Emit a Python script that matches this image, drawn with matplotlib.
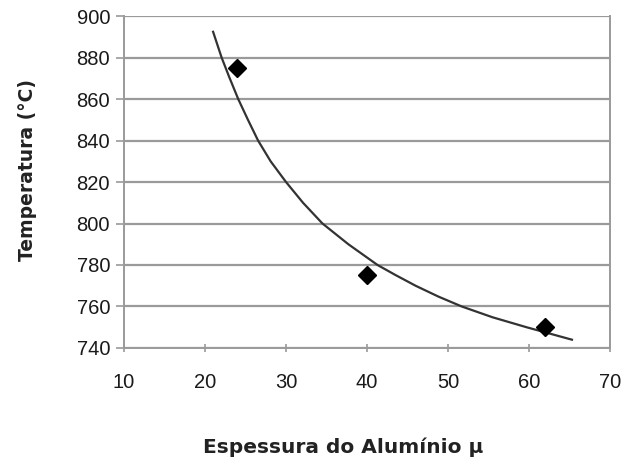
import matplotlib
matplotlib.use('Agg')
import matplotlib.pyplot as plt
from matplotlib.ticker import MultipleLocator

# measured points: aluminium thickness vs. temperature
espessura = [24, 40, 62]
temperatura = [875, 775, 750]

# trend curve, sampled along its length
curva_x = [21.0, 22.05, 23.0, 24.1, 25.3, 26.55, 28.1, 30.0, 32.1, 34.5,
           37.7, 41.3, 43.5, 46.0, 48.8, 51.7, 55.5, 59.7, 62.5, 65.3]
curva_y = [892.4, 880, 870.5, 860, 850, 840, 830, 820, 810, 800,
           790, 780, 775.2, 770, 764.8, 760, 754.8, 750, 747, 744]

plt.rcParams['font.family'] = ['Liberation Sans', 'DejaVu Sans']

fig = plt.figure(figsize=(6.24, 4.63), dpi=100)
ax = fig.add_axes([0.1987, 0.2484, 0.7789, 0.717])

grid_col = '#9a9a9a'
ax.set_xlim(10, 70)
ax.set_ylim(740, 900)
ax.yaxis.set_major_locator(MultipleLocator(20))
ax.xaxis.set_major_locator(MultipleLocator(10))
ax.grid(True, axis='y', color=grid_col, linewidth=1.6)
ax.set_axisbelow(True)

for side in ('left', 'right', 'bottom'):
    ax.spines[side].set_color(grid_col)
    ax.spines[side].set_linewidth(1.4)
ax.spines['top'].set_visible(False)

ax.plot(curva_x, curva_y, color='#333333', linewidth=1.6,
        solid_joinstyle='round', zorder=3)
ax.plot(espessura, temperatura, linestyle='none', marker='D', markersize=9.5,
        color='black', zorder=4)

ax.tick_params(axis='y', direction='out', length=6, width=1.2, color=grid_col,
               labelsize=14.5, labelcolor='#1a1a1a', pad=4)
ax.tick_params(axis='x', direction='inout', length=6, width=1.2, color=grid_col,
               labelsize=14.5, labelcolor='#1a1a1a', pad=15)

label_font = dict(family=['DejaVu Sans'], fontweight='bold', color='#222222')
ax.set_ylabel('Temperatura (°C)', fontsize=13.5, **label_font)
ax.yaxis.set_label_coords(-0.179, 0.536)
ax.set_xlabel('Espessura do Alumínio µ', fontsize=14.5, **label_font)
ax.xaxis.set_label_coords(0.451, -0.27)

fig.savefig('out.png', dpi=100)
